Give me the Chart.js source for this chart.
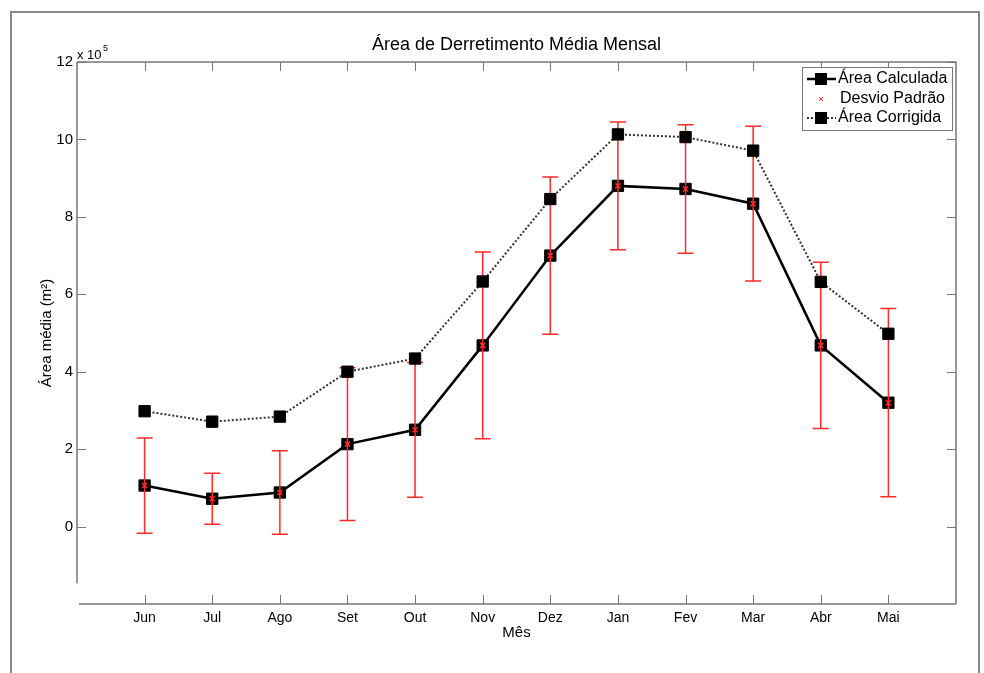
<!DOCTYPE html>
<html>
<head>
<meta charset="utf-8">
<script src="https://cdn.jsdelivr.net/npm/chart.js@4.4.0/dist/chart.umd.min.js"></script>
<style>
  body { margin: 0; background: #fff; }
  #wrap { width: 984px; height: 673px; }
</style>
</head>
<body>
<div id="wrap"><canvas id="chart" width="984" height="673"></canvas></div>
<script>
const months = ['Jun', 'Jul', 'Ago', 'Set', 'Out', 'Nov', 'Dez', 'Jan', 'Fev', 'Mar', 'Abr', 'Mai'];
const areaCalculada = [1.06, 0.72, 0.88, 2.13, 2.50, 4.68, 7.00, 8.80, 8.72, 8.34, 4.68, 3.20];
const desvioPadrao = [1.23, 0.66, 1.08, 1.97, 1.74, 2.41, 2.03, 1.65, 1.66, 2.00, 2.15, 2.43];
const areaCorrigida = [2.98, 2.71, 2.84, 4.00, 4.34, 6.33, 8.46, 10.13, 10.06, 9.71, 6.32, 4.98];
const yTicks = [0, 2, 4, 6, 8, 10, 12];

const FONT = '"Liberation Sans", Arial, sans-serif';
const AXIS = '#777';
const RED = '#ff2a2a';

Chart.defaults.font.family = FONT;
Chart.defaults.color = '#000';

const pts = arr => arr.map((v, i) => ({ x: i + 1, y: v }));

// error bars go between the two lines
const errorBars = {
    id: 'errorBars',
    afterDatasetDraw(chart, args) {
        if (args.index !== 1) return;
        const ctx = chart.ctx, xs = chart.scales.x, ys = chart.scales.y;
        ctx.save();
        ctx.strokeStyle = RED;
        ctx.lineWidth = 1.5;
        areaCalculada.forEach((v, i) => {
            const px = xs.getPixelForValue(i + 1);
            const top = ys.getPixelForValue(v + desvioPadrao[i]);
            const bot = ys.getPixelForValue(v - desvioPadrao[i]);
            const mid = ys.getPixelForValue(v);
            ctx.beginPath();
            ctx.moveTo(px, top); ctx.lineTo(px, bot);
            ctx.moveTo(px - 8, top); ctx.lineTo(px + 8, top);
            ctx.moveTo(px - 8, bot); ctx.lineTo(px + 8, bot);
            ctx.moveTo(px - 2.5, mid - 2.5); ctx.lineTo(px + 2.5, mid + 2.5);
            ctx.moveTo(px - 2.5, mid + 2.5); ctx.lineTo(px + 2.5, mid - 2.5);
            ctx.stroke();
        });
        ctx.restore();
    }
};

// matlab style box, inward ticks, title, exponent and legend
const decor = {
    id: 'decor',
    afterDraw(chart) {
        const ctx = chart.ctx, xs = chart.scales.x, ys = chart.scales.y;
        const a = chart.chartArea;
        ctx.save();

        // outer figure frame
        ctx.strokeStyle = '#888';
        ctx.lineWidth = 2;
        ctx.strokeRect(11, 12, 968, 700);

        ctx.strokeStyle = AXIS;
        ctx.lineWidth = 1.5;
        ctx.beginPath();
        ctx.moveTo(a.left, a.top); ctx.lineTo(a.right, a.top);
        ctx.lineTo(a.right, a.bottom);
        ctx.moveTo(a.left + 2, a.bottom); ctx.lineTo(a.right, a.bottom);
        ctx.moveTo(a.left, a.top); ctx.lineTo(a.left, ys.getPixelForValue(-1.47));
        ctx.stroke();

        ctx.lineWidth = 1;
        ctx.beginPath();
        yTicks.forEach(v => {
            const py = Math.round(ys.getPixelForValue(v)) + 0.5;
            ctx.moveTo(a.left, py); ctx.lineTo(a.left + 9, py);
            ctx.moveTo(a.right, py); ctx.lineTo(a.right - 9, py);
        });
        months.forEach((m, i) => {
            const px = Math.round(xs.getPixelForValue(i + 1)) + 0.5;
            ctx.moveTo(px, a.bottom); ctx.lineTo(px, a.bottom - 9);
            ctx.moveTo(px, a.top); ctx.lineTo(px, a.top + 9);
        });
        ctx.stroke();

        // title
        ctx.fillStyle = '#000';
        ctx.textAlign = 'center';
        ctx.textBaseline = 'middle';
        ctx.font = '18px ' + FONT;
        ctx.fillText('Área de Derretimento Média Mensal', (a.left + a.right) / 2, 45);

        // exponent
        ctx.textAlign = 'left';
        ctx.textBaseline = 'alphabetic';
        ctx.font = '13px ' + FONT;
        ctx.fillText('x 10', a.left, 59);
        ctx.font = '9px ' + FONT;
        ctx.fillText('5', a.left + 26, 51);

        // legend
        const lx = 802.5, ly = 67.5;
        ctx.fillStyle = '#fff';
        ctx.fillRect(lx, ly, 150, 63);
        ctx.strokeStyle = AXIS;
        ctx.lineWidth = 1;
        ctx.strokeRect(lx, ly, 150, 63);
        const rows = [79, 99, 118];
        // calculada
        ctx.strokeStyle = '#000';
        ctx.lineWidth = 2.5;
        ctx.beginPath(); ctx.moveTo(807, rows[0]); ctx.lineTo(836, rows[0]); ctx.stroke();
        ctx.fillStyle = '#000';
        ctx.fillRect(815, rows[0] - 6, 12, 12);
        // desvio
        ctx.strokeStyle = RED;
        ctx.lineWidth = 1;
        ctx.beginPath();
        ctx.moveTo(819, rows[1] - 2); ctx.lineTo(823, rows[1] + 2);
        ctx.moveTo(819, rows[1] + 2); ctx.lineTo(823, rows[1] - 2);
        ctx.stroke();
        // corrigida
        ctx.strokeStyle = '#333';
        ctx.lineWidth = 2;
        ctx.setLineDash([2, 2]);
        ctx.beginPath(); ctx.moveTo(807, rows[2]); ctx.lineTo(836, rows[2]); ctx.stroke();
        ctx.setLineDash([]);
        ctx.fillRect(815, rows[2] - 6, 12, 12);

        ctx.fillStyle = '#000';
        ctx.font = '16px ' + FONT;
        ctx.textBaseline = 'middle';
        ctx.fillText('Área Calculada', 838, rows[0]);
        ctx.fillText('Desvio Padrão', 840, rows[1]);
        ctx.fillText('Área Corrigida', 838, rows[2]);

        ctx.restore();
    }
};

new Chart(document.getElementById('chart'), {
    type: 'line',
    data: {
        datasets: [
            {
                label: 'Área Corrigida',
                data: pts(areaCorrigida),
                borderColor: '#333',
                borderWidth: 2,
                borderDash: [2, 2],
                pointStyle: 'rect',
                pointRadius: 8,
                pointBackgroundColor: '#000',
                pointBorderColor: '#000',
                pointBorderWidth: 1
            },
            {
                label: 'Área Calculada',
                data: pts(areaCalculada),
                borderColor: '#000',
                borderWidth: 2.5,
                pointStyle: 'rect',
                pointRadius: 8,
                pointBackgroundColor: '#000',
                pointBorderColor: '#000',
                pointBorderWidth: 1
            }
        ]
    },
    options: {
        responsive: false,
        animation: false,
        devicePixelRatio: 1,
        layout: { padding: { left: 0, top: 62, right: 28, bottom: 0 } },
        plugins: {
            legend: { display: false },
            tooltip: { enabled: false },
            title: { display: false }
        },
        scales: {
            x: {
                type: 'linear',
                min: 0,
                max: 13,
                afterBuildTicks: s => { s.ticks = months.map((m, i) => ({ value: i + 1 })); },
                afterFit: s => { s.height = 69; },
                grid: { display: false, drawTicks: false },
                border: { display: false },
                ticks: {
                    autoSkip: false,
                    maxRotation: 0,
                    padding: 6,
                    font: { size: 14 },
                    callback: v => months[v - 1]
                },
                title: {
                    display: true,
                    text: 'Mês',
                    font: { size: 15 },
                    padding: { top: 0, bottom: 31 }
                }
            },
            y: {
                min: -2,
                max: 12,
                afterBuildTicks: s => { s.ticks = yTicks.map(v => ({ value: v })); },
                afterFit: s => { s.width = 77; },
                grid: { display: false, drawTicks: false },
                border: { display: false },
                ticks: { padding: 4, font: { size: 15 } },
                title: {
                    display: true,
                    text: 'Área média (m²)',
                    font: { size: 15 },
                    padding: { top: 38, bottom: 0 }
                }
            }
        }
    },
    plugins: [errorBars, decor]
});
</script>
</body>
</html>
